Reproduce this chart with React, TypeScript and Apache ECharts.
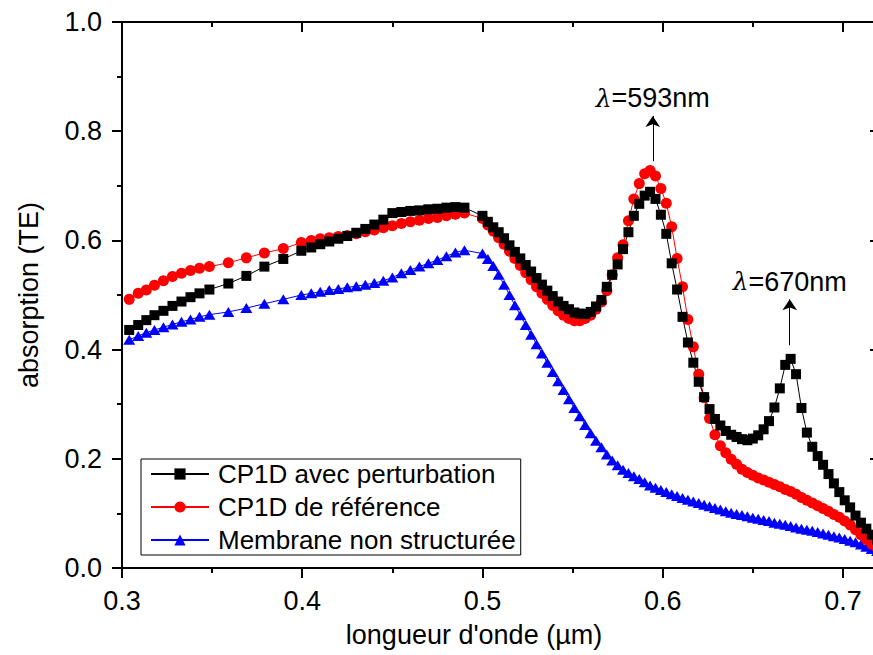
import React, { useEffect, useRef } from 'react';
import * as echarts from 'echarts';

// wavelength grid (µm)
const wavelengths = [
  0.304, 0.309, 0.3135, 0.318, 0.323, 0.328, 0.333, 0.338, 0.343, 0.3485,
  0.359, 0.369, 0.379, 0.3895, 0.3995,
  0.405, 0.41, 0.415, 0.42, 0.425, 0.43, 0.435, 0.44, 0.445, 0.45,
  0.455, 0.46, 0.465, 0.47, 0.475, 0.48, 0.485, 0.49,
  0.5, 0.503, 0.506, 0.509, 0.512, 0.515, 0.518, 0.521, 0.524, 0.527,
  0.53, 0.533, 0.536, 0.539, 0.542, 0.545, 0.548, 0.551, 0.554, 0.557,
  0.56, 0.563, 0.566, 0.569, 0.572, 0.575, 0.578, 0.581, 0.584, 0.587,
  0.59, 0.593, 0.596, 0.599, 0.602, 0.605, 0.608, 0.611, 0.614, 0.617,
  0.62, 0.623, 0.626, 0.629, 0.632, 0.635, 0.638, 0.641, 0.644, 0.647,
  0.65, 0.653, 0.656, 0.659, 0.662, 0.665, 0.668, 0.671, 0.674, 0.677,
  0.68, 0.683, 0.686, 0.689, 0.692, 0.695, 0.698, 0.701, 0.704, 0.707,
  0.71, 0.713, 0.716, 0.719,
];

// CP1D avec perturbation
const perturbed = [
  0.436, 0.445, 0.454, 0.463, 0.471, 0.48, 0.488, 0.496, 0.503, 0.51,
  0.521, 0.535, 0.552, 0.566, 0.581,
  0.587, 0.593, 0.598, 0.603, 0.608, 0.614, 0.621, 0.629, 0.638, 0.65,
  0.652, 0.654, 0.655, 0.657, 0.658, 0.66, 0.661, 0.66,
  0.645, 0.634, 0.624, 0.615, 0.604, 0.591, 0.579, 0.567, 0.555, 0.543,
  0.531, 0.519, 0.508, 0.498, 0.488, 0.48, 0.474, 0.468, 0.466, 0.465,
  0.469, 0.479, 0.491, 0.515, 0.537, 0.556, 0.584, 0.615, 0.645, 0.667,
  0.682, 0.689, 0.676, 0.647, 0.612, 0.558, 0.51, 0.46, 0.413, 0.376,
  0.341, 0.313, 0.291, 0.273, 0.261, 0.251, 0.244, 0.24, 0.236, 0.234,
  0.237, 0.243, 0.254, 0.269, 0.294, 0.329, 0.372, 0.383, 0.355, 0.293,
  0.248, 0.222, 0.205, 0.189, 0.172, 0.155, 0.139, 0.124, 0.111, 0.096,
  0.083, 0.072, 0.061, 0.052,
];

// CP1D de référence
const reference = [
  0.492, 0.503, 0.509, 0.518, 0.526, 0.534, 0.54, 0.545, 0.549, 0.552,
  0.559, 0.568, 0.577, 0.585, 0.596,
  0.6, 0.603, 0.605, 0.607, 0.609, 0.612, 0.616, 0.619, 0.623, 0.627,
  0.631, 0.634, 0.637, 0.64, 0.642, 0.645, 0.648, 0.65,
  0.64, 0.628, 0.617, 0.605, 0.593, 0.58, 0.567, 0.554, 0.541, 0.528,
  0.515, 0.503, 0.492, 0.481, 0.471, 0.463, 0.457, 0.453, 0.453, 0.457,
  0.463, 0.474, 0.487, 0.508, 0.537, 0.568, 0.592, 0.636, 0.676, 0.704,
  0.722, 0.728, 0.718, 0.695, 0.668, 0.625, 0.567, 0.515, 0.455, 0.405,
  0.355, 0.312, 0.274, 0.244, 0.224, 0.211, 0.199, 0.19, 0.181, 0.175,
  0.17, 0.165, 0.161, 0.157, 0.153, 0.149, 0.144, 0.14, 0.135, 0.129,
  0.124, 0.119, 0.114, 0.109, 0.104, 0.098, 0.093, 0.086, 0.079, 0.07,
  0.061, 0.052, 0.044, 0.037,
];

// Membrane non structurée
const membrane = [
  0.418, 0.425, 0.431, 0.436, 0.441, 0.446, 0.451, 0.455, 0.46, 0.464,
  0.469, 0.476, 0.484, 0.492, 0.5,
  0.503, 0.506, 0.509, 0.511, 0.514, 0.516, 0.519, 0.522, 0.526, 0.532,
  0.54, 0.546, 0.552, 0.558, 0.564, 0.571, 0.578, 0.582,
  0.576, 0.566, 0.553, 0.537, 0.519, 0.5, 0.481, 0.463, 0.445, 0.427,
  0.41, 0.393, 0.376, 0.359, 0.342, 0.326, 0.309, 0.293, 0.278, 0.262,
  0.247, 0.233, 0.221, 0.208, 0.197, 0.188, 0.18, 0.174, 0.168, 0.163,
  0.157, 0.151, 0.147, 0.143, 0.139, 0.135, 0.132, 0.128, 0.125, 0.122,
  0.119, 0.116, 0.113, 0.11, 0.107, 0.104, 0.101, 0.099, 0.097, 0.095,
  0.092, 0.09, 0.088, 0.086, 0.083, 0.081, 0.079, 0.077, 0.074, 0.072,
  0.07, 0.068, 0.066, 0.063, 0.061, 0.058, 0.056, 0.053, 0.05, 0.047,
  0.043, 0.039, 0.035, 0.031,
];

const seriesNames = ['CP1D avec perturbation', 'CP1D de référence', 'Membrane non structurée'];
const xTicks = [0.3, 0.4, 0.5, 0.6, 0.7];
const yTicks = [0, 0.2, 0.4, 0.6, 0.8, 1.0];

// peak annotations: wavelength (µm), arrow start / end absorption, label (nm)
const peakWl = [0.5945, 0.6705];
const arrowFrom = [0.745, 0.408];
const arrowTo = [0.828, 0.492];
const peakNm = ['593', '670'];

const FONT = 'Liberation Sans, Arial, Helvetica, sans-serif';

export default function App() {
  const ref = useRef<HTMLDivElement>(null);
  useEffect(() => {
    if (!ref.current) return;
    const chart = echarts.init(ref.current, null, { renderer: 'svg' });
    const pair = (ys: number[]) => wavelengths.map((x, i) => [x, ys[i]]);
    const axisLine = { show: true, onZero: false, lineStyle: { color: '#000', width: 2 } };
    const tickStyle = { color: '#000', width: 2 };
    const xLabelFmt = (v: number) => (xTicks.some((t) => Math.abs(t - v) < 1e-6) ? v.toFixed(1) : '');
    const yLabelFmt = (v: number) => (yTicks.some((t) => Math.abs(t - v) < 1e-6) ? v.toFixed(1) : '');

    const option: any = {
      animation: false,
      backgroundColor: '#fff',
      textStyle: { fontFamily: FONT },
      grid: { left: 122, top: 22, width: 793, height: 546, containLabel: false, outerBoundsMode: 'none' },
      legend: {
        data: seriesNames,
        orient: 'vertical',
        left: 141,
        top: 459,
        itemWidth: 58,
        itemHeight: 14,
        itemGap: 3,
        padding: [0, 5, 0, 9],
        borderColor: '#000',
        borderWidth: 1,
        selectedMode: false,
        textStyle: { fontSize: 26, color: '#000', lineHeight: 30, fontFamily: FONT, padding: [0, 0, 0, 4] },
      },
      xAxis: [
        {
          type: 'value',
          min: 0.3,
          max: 0.74,
          interval: 0.1,
          position: 'bottom',
          axisLine,
          axisTick: { show: true, inside: false, length: 10, lineStyle: tickStyle },
          minorTick: { show: true, splitNumber: 2, length: 5, lineStyle: tickStyle },
          splitLine: { show: false },
          axisLabel: { formatter: xLabelFmt, fontSize: 27, color: '#000', margin: 19, fontFamily: FONT, showMaxLabel: false },
          name: "longueur d'onde (µm)",
          nameLocation: 'middle',
          nameGap: 53,
          nameTextStyle: { fontSize: 27, color: '#000', fontFamily: FONT, padding: [0, 89, 0, 0] },
        },
        {
          type: 'value',
          min: 0.3,
          max: 0.74,
          interval: 0.1,
          position: 'top',
          axisLine,
          axisTick: { show: true, inside: true, length: 10, lineStyle: tickStyle },
          minorTick: { show: true, splitNumber: 2, length: 5, lineStyle: tickStyle },
          splitLine: { show: false },
          axisLabel: { show: false },
        },
      ],
      yAxis: [
        {
          type: 'value',
          min: 0,
          max: 1,
          interval: 0.2,
          position: 'left',
          axisLine,
          axisTick: { show: true, inside: false, length: 10, lineStyle: tickStyle },
          minorTick: { show: true, splitNumber: 2, length: 5, lineStyle: tickStyle },
          splitLine: { show: false },
          axisLabel: { formatter: yLabelFmt, fontSize: 27, color: '#000', margin: 20, fontFamily: FONT },
          name: 'absorption (TE)',
          nameLocation: 'middle',
          nameGap: 80,
          nameTextStyle: { fontSize: 27, color: '#000', fontFamily: FONT },
        },
        {
          type: 'value',
          min: 0,
          max: 1,
          interval: 0.2,
          position: 'right',
          offset: -37,
          axisLine,
          axisTick: { show: true, inside: true, length: 8, lineStyle: tickStyle },
          minorTick: { show: true, splitNumber: 2, length: 5, lineStyle: tickStyle },
          splitLine: { show: false },
          axisLabel: { show: false },
        },
      ],
      series: [
        {
          name: seriesNames[2],
          type: 'line',
          data: pair(membrane),
          symbol: 'triangle',
          symbolSize: [12, 10],
          itemStyle: { color: '#0000ff' },
          lineStyle: { color: '#0000ff', width: 1 },
        },
        {
          name: seriesNames[1],
          type: 'line',
          data: pair(reference),
          symbol: 'circle',
          symbolSize: 11,
          itemStyle: { color: '#ff0000' },
          lineStyle: { color: '#ff0000', width: 1 },
        },
        {
          name: seriesNames[0],
          type: 'line',
          data: pair(perturbed),
          symbol: 'rect',
          symbolSize: 10,
          itemStyle: { color: '#000' },
          lineStyle: { color: '#000', width: 1 },
          markLine: {
            silent: true,
            animation: false,
            symbol: ['none', 'arrow'],
            symbolSize: 11,
            lineStyle: { color: '#000', width: 1, type: 'solid' },
            label: {
              show: true,
              position: 'end',
              distance: 4,
              color: '#000',
              fontSize: 27,
              fontFamily: FONT,
              formatter: (p: any) => '{l|λ}=' + p.name + 'nm',
              rich: { l: { fontStyle: 'italic', fontFamily: 'DejaVu Serif', fontSize: 25, color: '#000' } },
            },
            emphasis: { disabled: true },
            data: peakWl.map((wl, i) => [
              { name: peakNm[i], coord: [wl, arrowFrom[i]] },
              { coord: [wl, arrowTo[i]] },
            ]),
          },
        },
      ],
    };
    chart.setOption(option);
    return () => chart.dispose();
  }, []);
  return <div ref={ref} style={{ position: 'absolute', left: 0, top: 0, width: 873, height: 655 }} />;
}
